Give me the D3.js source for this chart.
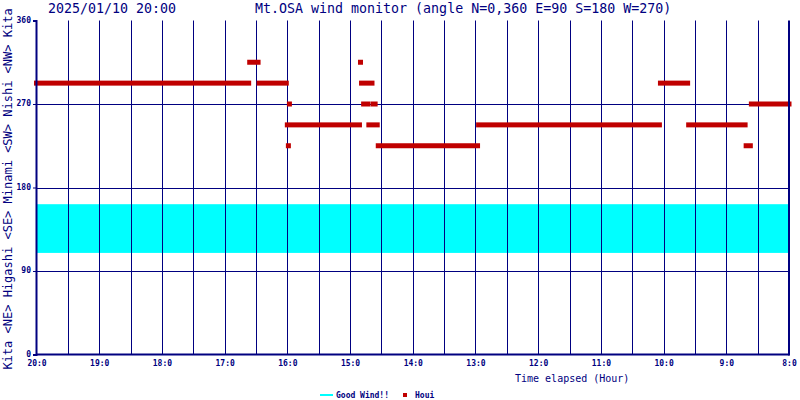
<!DOCTYPE html>
<html>
<head>
<meta charset="utf-8">
<script src="https://cdn.jsdelivr.net/npm/d3@7"></script>
<style>
  html, body { margin: 0; padding: 0; background: #fff; }
  svg { display: block; }
</style>
</head>
<body>
<svg id="chart" width="800" height="400"></svg>
<script>
// ---- data ----
const titleDate = "2025/01/10 20:00";
const titleText = "Mt.OSA wind monitor (angle N=0,360 E=90 S=180 W=270)";
const sideLabel = "Kita <NE> Higashi <SE> Minami <SW> Nishi <NW> Kita";
const xAxisTitle = "Time elapsed (Hour)";
const hourLabels = ["20:0","19:0","18:0","17:0","16:0","15:0","14:0","13:0","12:0","11:0","10:0","9:0","8:0"];
const yTickValues = [0, 90, 180, 270, 360];
const yGridValues = [90, 180, 270];
// Good wind band (degrees)
const goodWindLow = 109.5;
const goodWindHigh = 162;
// Houi (wind direction) observations as runs: minutes elapsed since 20:00
const runStart = [0,   204, 213,   240,   241, 242, 310, 311,   313, 322, 318,   327, 423,   597,   624,   679, 684];
const runEnd   = [203, 212, 239,   309,   241, 242, 310, 321,   317, 324, 326,   422, 596,   623,   678,   683, 720];
const runDir   = [292.5, 315, 292.5, 247.5, 225, 270, 315, 292.5, 270, 270, 247.5, 225, 247.5, 292.5, 247.5, 225, 270];
const legendNames = ["Good Wind!!", "Houi"];

// ---- drawing ----
const navy = "#000080";
const red = "#c00000";
const cyan = "#00ffff";
const mono = "'DejaVu Sans Mono', 'Liberation Mono', monospace";

const svg = d3.select("#chart");
const x = d3.scaleLinear().domain([0, 720]).range([36.5, 789]);
const y = d3.scaleLinear().domain([0, 360]).range([354.5, 20.5]);

// good wind band
svg.append("rect")
  .attr("x", x(0)).attr("width", x(720) - x(0))
  .attr("y", y(goodWindHigh)).attr("height", y(goodWindLow) - y(goodWindHigh))
  .attr("fill", cyan);

// vertical gridlines every 30 minutes
svg.append("g").selectAll("line")
  .data(d3.range(30, 720, 30))
  .join("line")
  .attr("x1", d => Math.round(x(d)) + 0.5).attr("x2", d => Math.round(x(d)) + 0.5)
  .attr("y1", y(360)).attr("y2", y(0))
  .attr("stroke", navy).attr("stroke-width", 1);

// horizontal gridlines
svg.append("g").selectAll("line")
  .data(yGridValues)
  .join("line")
  .attr("x1", x(0)).attr("x2", x(720))
  .attr("y1", d => Math.round(y(d)) + 0.5).attr("y2", d => Math.round(y(d)) + 0.5)
  .attr("stroke", navy).attr("stroke-width", 1);

// Houi runs
svg.append("g").selectAll("rect")
  .data(runDir.map((d, i) => ({ dir: d, s: runStart[i], e: runEnd[i] })))
  .join("rect")
  .attr("x", d => x(d.s) - 2.5)
  .attr("width", d => x(d.e) - x(d.s) + 5)
  .attr("y", d => y(d.dir) - 2.5)
  .attr("height", 5)
  .attr("fill", red);

// right border
svg.append("line")
  .attr("x1", 789).attr("x2", 789).attr("y1", y(360)).attr("y2", y(0) + 1)
  .attr("stroke", navy).attr("stroke-width", 2);

// y axis
const yAxis = svg.append("g")
  .attr("transform", "translate(36,0)")
  .call(d3.axisLeft(y).tickValues(yTickValues).tickSize(3).tickPadding(2).tickFormat(d3.format("d")));
yAxis.select(".domain").attr("stroke", navy).attr("stroke-width", 2);
yAxis.selectAll(".tick line").attr("stroke", navy);
yAxis.selectAll(".tick text")
  .attr("dy", "0.2em")
  .attr("fill", navy).attr("font-family", mono).attr("font-size", 8).attr("font-weight", "bold");

// x axis
const xAxis = svg.append("g")
  .attr("transform", "translate(0,354)")
  .call(d3.axisBottom(x).tickValues(d3.range(0, 721, 60)).tickSize(0).tickPadding(6)
    .tickFormat((d, i) => hourLabels[i]));
xAxis.select(".domain").attr("stroke", navy).attr("stroke-width", 2);
xAxis.selectAll(".tick text")
  .attr("fill", navy).attr("font-family", mono).attr("font-size", 8).attr("font-weight", "bold");

// titles
svg.append("text").attr("x", 48).attr("y", 13)
  .attr("font-family", mono).attr("font-size", 13.3).attr("fill", navy).text(titleDate);
svg.append("text").attr("x", 255).attr("y", 13)
  .attr("font-family", mono).attr("font-size", 13.3).attr("fill", navy).text(titleText);

// side label
svg.append("text")
  .attr("transform", "translate(12,189) rotate(-90)")
  .attr("text-anchor", "middle")
  .attr("font-family", mono).attr("font-size", 12).attr("fill", navy)
  .text(sideLabel);

// x axis title
svg.append("text").attr("x", 515).attr("y", 382)
  .attr("font-family", mono).attr("font-size", 10).attr("fill", navy).text(xAxisTitle);

// legend
const lg = svg.append("g");
lg.append("line").attr("x1", 320).attr("x2", 333).attr("y1", 395).attr("y2", 395)
  .attr("stroke", cyan).attr("stroke-width", 2);
lg.append("text").attr("x", 336).attr("y", 398)
  .attr("font-family", mono).attr("font-size", 8).attr("font-weight", "bold").attr("fill", navy)
  .text(legendNames[0]);
lg.append("rect").attr("x", 403).attr("y", 393).attr("width", 4).attr("height", 4).attr("fill", red);
lg.append("text").attr("x", 415).attr("y", 398)
  .attr("font-family", mono).attr("font-size", 8).attr("font-weight", "bold").attr("fill", navy)
  .text(legendNames[1]);
</script>
</body>
</html>
